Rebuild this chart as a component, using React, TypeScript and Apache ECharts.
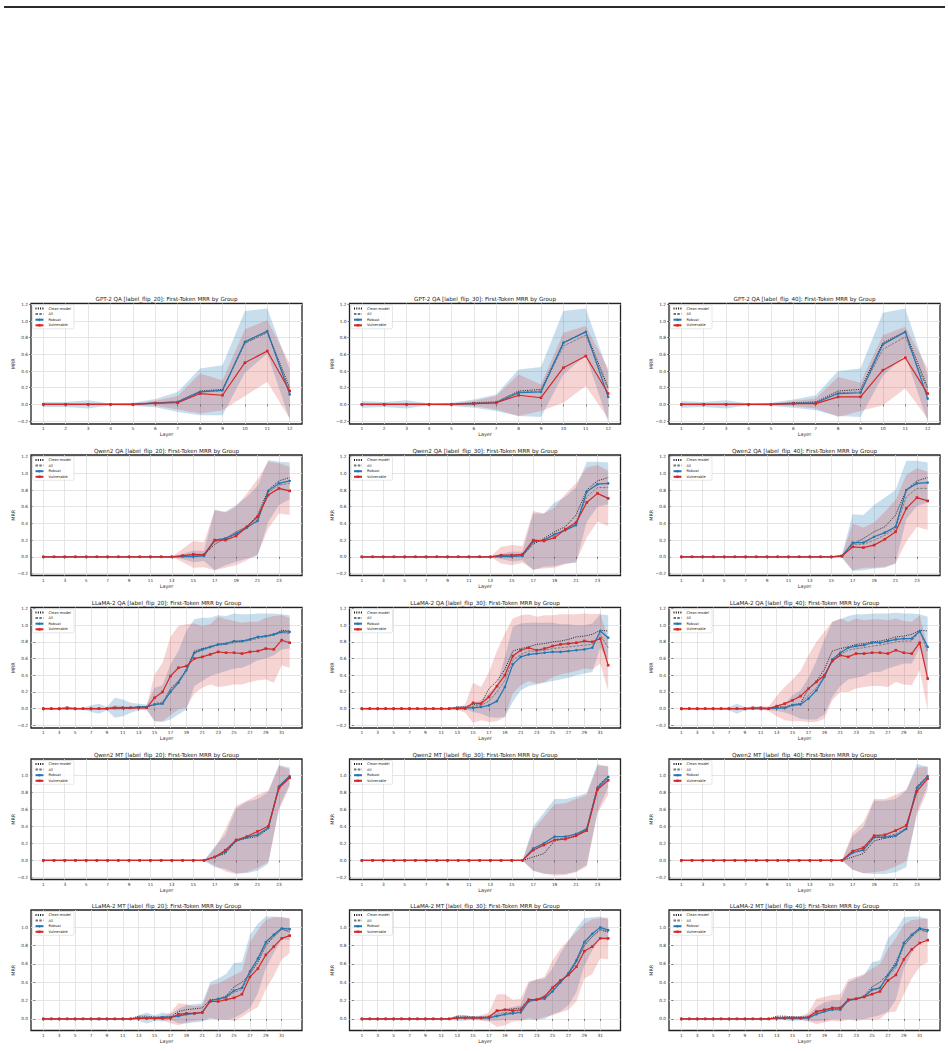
import React, { useEffect, useRef } from "react";
import * as echarts from "echarts";

// ---- layer indices and ticks ----
const LAYERS_12 = [1, 2, 3, 4, 5, 6, 7, 8, 9, 10, 11, 12];
const LAYERS_24 = [1, 2, 3, 4, 5, 6, 7, 8, 9, 10, 11, 12, 13, 14, 15, 16, 17, 18, 19, 20, 21, 22, 23, 24];
const LAYERS_32 = [1, 2, 3, 4, 5, 6, 7, 8, 9, 10, 11, 12, 13, 14, 15, 16, 17, 18, 19, 20, 21, 22, 23, 24, 25, 26, 27, 28, 29, 30, 31, 32];
const X_TICKS_12 = [1, 2, 3, 4, 5, 6, 7, 8, 9, 10, 11, 12];
const X_TICKS_24 = [1, 3, 5, 7, 9, 11, 13, 15, 17, 19, 21, 23];
const X_TICKS_32 = [1, 3, 5, 7, 9, 11, 13, 15, 17, 19, 21, 23, 25, 27, 29, 31];
const Y_TICKS_QA = [-0.2, 0, 0.2, 0.4, 0.6, 0.8, 1.0, 1.2];
const Y_TICKS_QWEN_MT = [-0.2, 0, 0.2, 0.4, 0.6, 0.8, 1.0];
const Y_TICKS_LLAMA_MT = [0, 0.2, 0.4, 0.6, 0.8, 1.0];

const LEGEND_NAMES = ["Clean model", "All", "Robust", "Vulnerable"];

// ---- clean-model reference curves (one per model / task) ----
const GPT2_QA_CLEAN = [0, 0, 0, 0, 0, 0.02, 0.03, 0.16, 0.18, 0.74, 0.87, 0.2];
const QWEN_QA_CLEAN = [0, 0, 0, 0, 0, 0, 0, 0, 0, 0, 0, 0, 0, 0, 0, 0.02, 0.15, 0.22, 0.3, 0.36, 0.5, 0.8, 0.91, 0.95];
const LLAMA_QA_CLEAN = [0, 0, 0, 0, 0, 0, 0, 0, 0, 0, 0, 0, 0.02, 0.02, 0.05, 0.06, 0.24, 0.33, 0.47, 0.69, 0.72, 0.74, 0.77, 0.78, 0.8, 0.81, 0.83, 0.86, 0.87, 0.89, 0.94, 0.93];
const QWEN_MT_CLEAN = [0, 0, 0, 0, 0, 0, 0, 0, 0, 0, 0, 0, 0, 0, 0, 0, 0.04, 0.08, 0.23, 0.26, 0.28, 0.37, 0.87, 0.99];
const LLAMA_MT_CLEAN = [0, 0, 0, 0, 0, 0, 0, 0, 0, 0, 0, 0, 0.03, 0.03, 0.02, 0.02, 0.02, 0.08, 0.1, 0.11, 0.12, 0.21, 0.21, 0.25, 0.35, 0.4, 0.49, 0.62, 0.8, 0.9, 0.98, 0.95];

// ---- GPT-2 QA ----
const GPT2_QA_20_ALL = [0, 0, 0, 0, 0, 0.015, 0.03, 0.15, 0.16, 0.73, 0.86, 0.17];
const GPT2_QA_20_ROBUST = [0, 0, 0, 0, 0, 0.015, 0.03, 0.15, 0.17, 0.75, 0.88, 0.12];
const GPT2_QA_20_VULN = [0, 0, 0, 0, 0, 0.015, 0.02, 0.13, 0.11, 0.5, 0.64, 0.16];
const GPT2_QA_20_ROBUST_SD = [0.03, 0.03, 0.05, 0.01, 0.02, 0.05, 0.12, 0.28, 0.3, 0.37, 0.27, 0.3];
const GPT2_QA_20_VULN_SD = [0.01, 0.01, 0.01, 0.01, 0.01, 0.03, 0.08, 0.24, 0.18, 0.4, 0.37, 0.33];

const GPT2_QA_30_ALL = [0, 0, 0, 0, 0, 0.01, 0.02, 0.15, 0.16, 0.7, 0.83, 0.18];
const GPT2_QA_30_ROBUST = [0, 0, 0, 0, 0, 0.01, 0.02, 0.14, 0.15, 0.74, 0.87, 0.09];
const GPT2_QA_30_VULN = [0, 0, 0, 0, 0, 0.01, 0.02, 0.11, 0.08, 0.44, 0.58, 0.13];
const GPT2_QA_30_ROBUST_SD = [0.04, 0.03, 0.05, 0.01, 0.02, 0.05, 0.1, 0.28, 0.3, 0.38, 0.28, 0.3];
const GPT2_QA_30_VULN_SD = [0.01, 0.01, 0.01, 0.01, 0.01, 0.03, 0.08, 0.25, 0.16, 0.42, 0.36, 0.3];

const GPT2_QA_40_ALL = [0, 0, 0, 0, 0, 0.01, 0.02, 0.14, 0.15, 0.66, 0.81, 0.17];
const GPT2_QA_40_ROBUST = [0, 0, 0, 0, 0, 0.01, 0.02, 0.13, 0.14, 0.72, 0.87, 0.07];
const GPT2_QA_40_VULN = [0, 0, 0, 0, 0, 0.01, 0.01, 0.09, 0.09, 0.41, 0.56, 0.13];
const GPT2_QA_40_ROBUST_SD = [0.04, 0.03, 0.05, 0.01, 0.02, 0.05, 0.09, 0.27, 0.29, 0.38, 0.28, 0.28];
const GPT2_QA_40_VULN_SD = [0.01, 0.01, 0.01, 0.01, 0.01, 0.03, 0.06, 0.24, 0.17, 0.42, 0.37, 0.3];

// ---- Qwen2 QA ----
const QWEN_QA_20_ALL = [0, 0, 0, 0, 0, 0, 0, 0, 0, 0, 0, 0, 0, 0.005, 0.01, 0.02, 0.18, 0.21, 0.27, 0.34, 0.45, 0.77, 0.86, 0.88];
const QWEN_QA_20_ROBUST = [0, 0, 0, 0, 0, 0, 0, 0, 0, 0, 0, 0, 0, 0.005, 0.005, 0.01, 0.2, 0.22, 0.28, 0.35, 0.43, 0.79, 0.88, 0.91];
const QWEN_QA_20_VULN = [0, 0, 0, 0, 0, 0, 0, 0, 0, 0, 0, 0, 0, 0.015, 0.03, 0.025, 0.2, 0.2, 0.25, 0.36, 0.48, 0.74, 0.82, 0.79];
const QWEN_QA_20_ROBUST_SD = [0, 0, 0, 0, 0, 0, 0, 0, 0, 0, 0, 0, 0, 0.03, 0.07, 0.06, 0.36, 0.32, 0.34, 0.37, 0.42, 0.37, 0.26, 0.22];
const QWEN_QA_20_VULN_SD = [0, 0, 0, 0, 0, 0, 0, 0, 0, 0, 0, 0, 0, 0.08, 0.16, 0.15, 0.36, 0.33, 0.35, 0.4, 0.45, 0.4, 0.3, 0.29];

const QWEN_QA_30_ALL = [0, 0, 0, 0, 0, 0, 0, 0, 0, 0, 0, 0, 0, 0.01, 0.01, 0.02, 0.18, 0.2, 0.26, 0.32, 0.4, 0.72, 0.83, 0.83];
const QWEN_QA_30_ROBUST = [0, 0, 0, 0, 0, 0, 0, 0, 0, 0, 0, 0, 0, 0.005, 0.005, 0.01, 0.18, 0.2, 0.27, 0.32, 0.38, 0.78, 0.87, 0.88];
const QWEN_QA_30_VULN = [0, 0, 0, 0, 0, 0, 0, 0, 0, 0, 0, 0, 0, 0.02, 0.02, 0.03, 0.2, 0.19, 0.23, 0.33, 0.41, 0.65, 0.76, 0.7];
const QWEN_QA_30_ROBUST_SD = [0, 0, 0, 0, 0, 0, 0, 0, 0, 0, 0, 0, 0, 0.03, 0.06, 0.05, 0.34, 0.32, 0.38, 0.4, 0.45, 0.36, 0.27, 0.25];
const QWEN_QA_30_VULN_SD = [0, 0, 0, 0, 0, 0, 0, 0, 0, 0, 0, 0, 0, 0.1, 0.12, 0.1, 0.35, 0.33, 0.36, 0.42, 0.47, 0.42, 0.34, 0.33];

const QWEN_QA_40_ALL = [0, 0, 0, 0, 0, 0, 0, 0, 0, 0, 0, 0, 0, 0, 0, 0.01, 0.15, 0.15, 0.2, 0.26, 0.34, 0.72, 0.82, 0.82];
const QWEN_QA_40_ROBUST = [0, 0, 0, 0, 0, 0, 0, 0, 0, 0, 0, 0, 0, 0, 0, 0.005, 0.17, 0.17, 0.24, 0.29, 0.36, 0.8, 0.88, 0.89];
const QWEN_QA_40_VULN = [0, 0, 0, 0, 0, 0, 0, 0, 0, 0, 0, 0, 0, 0, 0, 0.01, 0.12, 0.11, 0.14, 0.21, 0.3, 0.58, 0.71, 0.67];
const QWEN_QA_40_ROBUST_SD = [0, 0, 0, 0, 0, 0, 0, 0, 0, 0, 0, 0, 0, 0, 0, 0.02, 0.34, 0.33, 0.38, 0.42, 0.44, 0.35, 0.27, 0.24];
const QWEN_QA_40_VULN_SD = [0, 0, 0, 0, 0, 0, 0, 0, 0, 0, 0, 0, 0, 0, 0, 0.01, 0.28, 0.24, 0.27, 0.33, 0.38, 0.4, 0.35, 0.35];

// ---- LLaMA-2 QA ----
const LLAMA_QA_20_ALL = [0, 0, 0, 0, 0, 0, 0, 0, 0, 0.01, 0.01, 0.01, 0.02, 0.02, 0.06, 0.08, 0.22, 0.33, 0.46, 0.66, 0.7, 0.73, 0.76, 0.77, 0.79, 0.8, 0.82, 0.84, 0.86, 0.88, 0.91, 0.9];
const LLAMA_QA_20_ROBUST = [0, 0, 0, 0, 0, 0, 0, 0, 0, 0.01, 0.01, 0.01, 0.02, 0.02, 0.05, 0.06, 0.2, 0.31, 0.46, 0.67, 0.71, 0.74, 0.77, 0.78, 0.81, 0.81, 0.83, 0.86, 0.87, 0.89, 0.92, 0.92];
const LLAMA_QA_20_VULN = [0, 0, 0, 0.01, 0, 0, 0, 0, 0, 0.01, 0.01, 0.01, 0.01, 0.01, 0.13, 0.2, 0.39, 0.49, 0.51, 0.6, 0.62, 0.65, 0.68, 0.67, 0.67, 0.66, 0.68, 0.69, 0.72, 0.71, 0.82, 0.79];
const LLAMA_QA_20_ROBUST_SD = [0.01, 0.01, 0.01, 0.01, 0.01, 0.01, 0.04, 0.06, 0.02, 0.12, 0.1, 0.06, 0.04, 0.03, 0.2, 0.22, 0.33, 0.38, 0.47, 0.4, 0.38, 0.35, 0.35, 0.33, 0.33, 0.32, 0.3, 0.28, 0.27, 0.25, 0.21, 0.2];
const LLAMA_QA_20_VULN_SD = [0.01, 0.01, 0.01, 0.02, 0.01, 0.01, 0.01, 0.01, 0.01, 0.03, 0.02, 0.02, 0.02, 0.02, 0.28, 0.35, 0.47, 0.5, 0.5, 0.42, 0.37, 0.36, 0.42, 0.4, 0.38, 0.37, 0.36, 0.35, 0.37, 0.4, 0.3, 0.3];

const LLAMA_QA_30_ALL = [0, 0, 0, 0, 0, 0, 0, 0, 0, 0, 0, 0, 0.01, 0.01, 0.03, 0.04, 0.09, 0.2, 0.34, 0.58, 0.65, 0.69, 0.69, 0.7, 0.72, 0.73, 0.74, 0.75, 0.76, 0.77, 0.89, 0.73];
const LLAMA_QA_30_ROBUST = [0, 0, 0, 0, 0, 0, 0, 0, 0, 0, 0, 0, 0.01, 0.01, 0.01, 0.02, 0.04, 0.09, 0.26, 0.53, 0.62, 0.65, 0.66, 0.67, 0.68, 0.68, 0.69, 0.7, 0.71, 0.73, 0.93, 0.85];
const LLAMA_QA_30_VULN = [0, 0, 0, 0, 0, 0, 0, 0, 0, 0, 0, 0, 0, 0, 0.07, 0.06, 0.14, 0.27, 0.4, 0.63, 0.7, 0.73, 0.7, 0.72, 0.75, 0.77, 0.78, 0.79, 0.81, 0.8, 0.84, 0.52];
const LLAMA_QA_30_ROBUST_SD = [0.01, 0.01, 0.01, 0.01, 0.01, 0.01, 0.01, 0.01, 0.01, 0.01, 0.01, 0.01, 0.02, 0.02, 0.05, 0.08, 0.14, 0.2, 0.36, 0.45, 0.4, 0.38, 0.37, 0.36, 0.35, 0.33, 0.32, 0.3, 0.29, 0.29, 0.2, 0.27];
const LLAMA_QA_30_VULN_SD = [0.01, 0.01, 0.01, 0.01, 0.01, 0.01, 0.01, 0.01, 0.01, 0.01, 0.01, 0.01, 0.01, 0.05, 0.24, 0.2, 0.3, 0.42, 0.5, 0.45, 0.42, 0.4, 0.4, 0.4, 0.37, 0.36, 0.35, 0.34, 0.33, 0.33, 0.3, 0.31];

const LLAMA_QA_40_ALL = [0, 0, 0, 0, 0, 0, 0, 0, 0, 0, 0, 0, 0.01, 0.02, 0.04, 0.06, 0.16, 0.25, 0.39, 0.58, 0.65, 0.7, 0.72, 0.73, 0.75, 0.76, 0.78, 0.8, 0.81, 0.81, 0.93, 0.68];
const LLAMA_QA_40_ROBUST = [0, 0, 0, 0, 0, 0, 0, 0, 0, 0, 0, 0, 0.005, 0.005, 0.04, 0.05, 0.12, 0.22, 0.38, 0.59, 0.67, 0.73, 0.75, 0.76, 0.79, 0.79, 0.81, 0.83, 0.84, 0.84, 0.93, 0.74];
const LLAMA_QA_40_VULN = [0, 0, 0, 0, 0, 0, 0, 0, 0, 0.01, 0.01, 0, 0.03, 0.06, 0.1, 0.15, 0.24, 0.32, 0.4, 0.57, 0.64, 0.62, 0.66, 0.66, 0.67, 0.67, 0.66, 0.7, 0.67, 0.66, 0.79, 0.36];
const LLAMA_QA_40_ROBUST_SD = [0.01, 0.01, 0.01, 0.01, 0.01, 0.01, 0.02, 0.06, 0.02, 0.01, 0.01, 0.02, 0.03, 0.05, 0.12, 0.17, 0.25, 0.35, 0.45, 0.45, 0.4, 0.38, 0.38, 0.37, 0.35, 0.35, 0.33, 0.32, 0.3, 0.3, 0.2, 0.36];
const LLAMA_QA_40_VULN_SD = [0.01, 0.01, 0.01, 0.01, 0.01, 0.01, 0.01, 0.01, 0.01, 0.02, 0.02, 0.03, 0.12, 0.2, 0.25, 0.3, 0.4, 0.48, 0.52, 0.47, 0.44, 0.42, 0.42, 0.4, 0.4, 0.4, 0.4, 0.38, 0.38, 0.38, 0.33, 0.38];

// ---- Qwen2 MT ----
const QWEN_MT_20_ALL = [0, 0, 0, 0, 0, 0, 0, 0, 0, 0, 0, 0, 0, 0, 0, 0, 0.04, 0.1, 0.23, 0.27, 0.31, 0.38, 0.86, 0.98];
const QWEN_MT_20_ROBUST = [0, 0, 0, 0, 0, 0, 0, 0, 0, 0, 0, 0, 0, 0, 0, 0, 0.04, 0.1, 0.23, 0.27, 0.3, 0.38, 0.87, 0.99];
const QWEN_MT_20_VULN = [0, 0, 0, 0, 0, 0, 0, 0, 0, 0, 0, 0, 0, 0, 0, 0, 0.04, 0.12, 0.24, 0.28, 0.34, 0.4, 0.85, 0.97];
const QWEN_MT_20_ROBUST_SD = [0, 0, 0, 0, 0, 0, 0, 0, 0, 0, 0, 0, 0, 0, 0, 0, 0.12, 0.2, 0.38, 0.42, 0.42, 0.42, 0.25, 0.1];
const QWEN_MT_20_VULN_SD = [0, 0, 0, 0, 0, 0, 0, 0, 0, 0, 0, 0, 0, 0, 0, 0, 0.1, 0.25, 0.4, 0.42, 0.43, 0.42, 0.26, 0.1];

const QWEN_MT_30_ALL = [0, 0, 0, 0, 0, 0, 0, 0, 0, 0, 0, 0, 0, 0, 0, 0, 0.12, 0.18, 0.25, 0.26, 0.3, 0.36, 0.84, 0.96];
const QWEN_MT_30_ROBUST = [0, 0, 0, 0, 0, 0, 0, 0, 0, 0, 0, 0, 0, 0, 0, 0, 0.14, 0.2, 0.28, 0.28, 0.31, 0.37, 0.85, 0.98];
const QWEN_MT_30_VULN = [0, 0, 0, 0, 0, 0, 0, 0, 0, 0, 0, 0, 0, 0, 0, 0, 0.12, 0.18, 0.24, 0.25, 0.29, 0.35, 0.83, 0.94];
const QWEN_MT_30_ROBUST_SD = [0, 0, 0, 0, 0, 0, 0, 0, 0, 0, 0, 0, 0, 0, 0, 0, 0.26, 0.36, 0.44, 0.44, 0.44, 0.42, 0.28, 0.12];
const QWEN_MT_30_VULN_SD = [0, 0, 0, 0, 0, 0, 0, 0, 0, 0, 0, 0, 0, 0, 0, 0, 0.24, 0.33, 0.42, 0.42, 0.43, 0.42, 0.28, 0.17];

const QWEN_MT_40_ALL = [0, 0, 0, 0, 0, 0, 0, 0, 0, 0, 0, 0, 0, 0, 0, 0, 0.1, 0.13, 0.28, 0.28, 0.31, 0.38, 0.83, 0.97];
const QWEN_MT_40_ROBUST = [0, 0, 0, 0, 0, 0, 0, 0, 0, 0, 0, 0, 0, 0, 0, 0, 0.09, 0.12, 0.27, 0.27, 0.29, 0.37, 0.85, 0.99];
const QWEN_MT_40_VULN = [0, 0, 0, 0, 0, 0, 0, 0, 0, 0, 0, 0, 0, 0, 0, 0, 0.11, 0.15, 0.29, 0.3, 0.35, 0.41, 0.81, 0.96];
const QWEN_MT_40_ROBUST_SD = [0, 0, 0, 0, 0, 0, 0, 0, 0, 0, 0, 0, 0, 0, 0, 0, 0.2, 0.27, 0.43, 0.43, 0.43, 0.45, 0.28, 0.11];
const QWEN_MT_40_VULN_SD = [0, 0, 0, 0, 0, 0, 0, 0, 0, 0, 0, 0, 0, 0, 0, 0, 0.22, 0.3, 0.43, 0.42, 0.42, 0.42, 0.28, 0.14];

// ---- LLaMA-2 MT ----
const LLAMA_MT_20_ALL = [0, 0, 0, 0, 0, 0, 0, 0, 0, 0, 0, 0, 0.02, 0.02, 0.015, 0.02, 0.02, 0.04, 0.05, 0.06, 0.07, 0.2, 0.21, 0.23, 0.29, 0.32, 0.5, 0.63, 0.82, 0.9, 0.98, 0.96];
const LLAMA_MT_20_ROBUST = [0, 0, 0, 0, 0, 0, 0, 0, 0, 0, 0, 0, 0.01, 0.01, 0.01, 0.02, 0.02, 0.03, 0.05, 0.06, 0.07, 0.2, 0.22, 0.24, 0.31, 0.34, 0.52, 0.66, 0.84, 0.92, 0.99, 0.98];
const LLAMA_MT_20_VULN = [0, 0, 0, 0, 0, 0, 0, 0, 0, 0, 0, 0, 0.005, 0.005, 0.005, 0.005, 0.01, 0.05, 0.06, 0.06, 0.07, 0.19, 0.19, 0.21, 0.23, 0.27, 0.46, 0.55, 0.7, 0.79, 0.88, 0.91];
const LLAMA_MT_20_ROBUST_SD = [0.005, 0.005, 0.005, 0.005, 0.005, 0.005, 0.005, 0.02, 0.005, 0.005, 0.005, 0.005, 0.03, 0.06, 0.03, 0.05, 0.03, 0.08, 0.1, 0.1, 0.1, 0.2, 0.22, 0.25, 0.3, 0.28, 0.4, 0.38, 0.28, 0.2, 0.12, 0.12];
const LLAMA_MT_20_VULN_SD = [0.005, 0.005, 0.005, 0.005, 0.005, 0.005, 0.005, 0.005, 0.005, 0.005, 0.005, 0.005, 0.01, 0.01, 0.01, 0.02, 0.06, 0.12, 0.1, 0.08, 0.08, 0.18, 0.2, 0.22, 0.25, 0.25, 0.38, 0.42, 0.38, 0.32, 0.23, 0.19];

const LLAMA_MT_30_ALL = [0, 0, 0, 0, 0, 0, 0, 0, 0, 0, 0, 0, 0.02, 0.02, 0.01, 0.01, 0.01, 0.05, 0.07, 0.07, 0.08, 0.2, 0.21, 0.23, 0.31, 0.41, 0.49, 0.62, 0.81, 0.9, 0.97, 0.95];
const LLAMA_MT_30_ROBUST = [0, 0, 0, 0, 0, 0, 0, 0, 0, 0, 0, 0, 0.01, 0.01, 0.01, 0.01, 0.01, 0.03, 0.05, 0.06, 0.07, 0.19, 0.21, 0.22, 0.3, 0.4, 0.5, 0.64, 0.84, 0.93, 1.0, 0.97];
const LLAMA_MT_30_VULN = [0, 0, 0, 0, 0, 0, 0, 0, 0, 0, 0, 0, 0.01, 0.01, 0.01, 0.01, 0.02, 0.09, 0.1, 0.09, 0.1, 0.21, 0.21, 0.24, 0.34, 0.42, 0.48, 0.57, 0.74, 0.79, 0.88, 0.88];
const LLAMA_MT_30_ROBUST_SD = [0.005, 0.005, 0.005, 0.005, 0.005, 0.005, 0.005, 0.005, 0.005, 0.005, 0.005, 0.005, 0.03, 0.03, 0.02, 0.02, 0.03, 0.05, 0.06, 0.07, 0.08, 0.2, 0.22, 0.22, 0.25, 0.32, 0.35, 0.35, 0.26, 0.18, 0.12, 0.12];
const LLAMA_MT_30_VULN_SD = [0.005, 0.005, 0.005, 0.005, 0.005, 0.005, 0.005, 0.005, 0.005, 0.005, 0.005, 0.005, 0.01, 0.01, 0.02, 0.03, 0.05, 0.18, 0.17, 0.12, 0.12, 0.2, 0.22, 0.22, 0.3, 0.35, 0.38, 0.38, 0.3, 0.3, 0.22, 0.23];

const LLAMA_MT_40_ALL = [0, 0, 0, 0, 0, 0, 0, 0, 0, 0, 0, 0, 0.01, 0.01, 0.01, 0.01, 0.01, 0.06, 0.09, 0.11, 0.11, 0.2, 0.22, 0.24, 0.31, 0.33, 0.46, 0.56, 0.8, 0.9, 0.97, 0.95];
const LLAMA_MT_40_ROBUST = [0, 0, 0, 0, 0, 0, 0, 0, 0, 0, 0, 0, 0.005, 0.005, 0.005, 0.005, 0.01, 0.05, 0.08, 0.1, 0.1, 0.2, 0.22, 0.24, 0.32, 0.34, 0.48, 0.59, 0.83, 0.92, 0.99, 0.97];
const LLAMA_MT_40_VULN = [0, 0, 0, 0, 0, 0, 0, 0, 0, 0, 0, 0, 0.01, 0.01, 0.01, 0.01, 0.02, 0.08, 0.1, 0.12, 0.12, 0.21, 0.22, 0.24, 0.27, 0.3, 0.42, 0.48, 0.65, 0.76, 0.83, 0.86];
const LLAMA_MT_40_ROBUST_SD = [0.005, 0.005, 0.005, 0.005, 0.005, 0.005, 0.005, 0.005, 0.005, 0.005, 0.005, 0.005, 0.02, 0.02, 0.03, 0.02, 0.03, 0.08, 0.1, 0.1, 0.1, 0.2, 0.22, 0.24, 0.3, 0.3, 0.4, 0.38, 0.28, 0.2, 0.13, 0.12];
const LLAMA_MT_40_VULN_SD = [0.005, 0.005, 0.005, 0.005, 0.005, 0.005, 0.005, 0.005, 0.005, 0.005, 0.005, 0.005, 0.01, 0.01, 0.02, 0.02, 0.05, 0.14, 0.14, 0.14, 0.15, 0.22, 0.24, 0.25, 0.28, 0.3, 0.35, 0.4, 0.38, 0.32, 0.26, 0.24];

type Panel = {
  title: string;
  layers: number[];
  xTicks: number[];
  yTicks: number[];
  yMin: number;
  yMax: number;
  clean: number[];
  all: number[];
  robust: number[];
  vuln: number[];
  robustSd: number[];
  vulnSd: number[];
};

const PANELS: Panel[] = [
  { title: "GPT-2 QA [label_flip_20]: First-Token MRR by Group", layers: LAYERS_12, xTicks: X_TICKS_12, yTicks: Y_TICKS_QA, yMin: -0.235, yMax: 1.21, clean: GPT2_QA_CLEAN, all: GPT2_QA_20_ALL, robust: GPT2_QA_20_ROBUST, vuln: GPT2_QA_20_VULN, robustSd: GPT2_QA_20_ROBUST_SD, vulnSd: GPT2_QA_20_VULN_SD },
  { title: "GPT-2 QA [label_flip_30]: First-Token MRR by Group", layers: LAYERS_12, xTicks: X_TICKS_12, yTicks: Y_TICKS_QA, yMin: -0.235, yMax: 1.21, clean: GPT2_QA_CLEAN, all: GPT2_QA_30_ALL, robust: GPT2_QA_30_ROBUST, vuln: GPT2_QA_30_VULN, robustSd: GPT2_QA_30_ROBUST_SD, vulnSd: GPT2_QA_30_VULN_SD },
  { title: "GPT-2 QA [label_flip_40]: First-Token MRR by Group", layers: LAYERS_12, xTicks: X_TICKS_12, yTicks: Y_TICKS_QA, yMin: -0.235, yMax: 1.21, clean: GPT2_QA_CLEAN, all: GPT2_QA_40_ALL, robust: GPT2_QA_40_ROBUST, vuln: GPT2_QA_40_VULN, robustSd: GPT2_QA_40_ROBUST_SD, vulnSd: GPT2_QA_40_VULN_SD },
  { title: "Qwen2 QA [label_flip_20]: First-Token MRR by Group", layers: LAYERS_24, xTicks: X_TICKS_24, yTicks: Y_TICKS_QA, yMin: -0.224, yMax: 1.22, clean: QWEN_QA_CLEAN, all: QWEN_QA_20_ALL, robust: QWEN_QA_20_ROBUST, vuln: QWEN_QA_20_VULN, robustSd: QWEN_QA_20_ROBUST_SD, vulnSd: QWEN_QA_20_VULN_SD },
  { title: "Qwen2 QA [label_flip_30]: First-Token MRR by Group", layers: LAYERS_24, xTicks: X_TICKS_24, yTicks: Y_TICKS_QA, yMin: -0.224, yMax: 1.22, clean: QWEN_QA_CLEAN, all: QWEN_QA_30_ALL, robust: QWEN_QA_30_ROBUST, vuln: QWEN_QA_30_VULN, robustSd: QWEN_QA_30_ROBUST_SD, vulnSd: QWEN_QA_30_VULN_SD },
  { title: "Qwen2 QA [label_flip_40]: First-Token MRR by Group", layers: LAYERS_24, xTicks: X_TICKS_24, yTicks: Y_TICKS_QA, yMin: -0.224, yMax: 1.22, clean: QWEN_QA_CLEAN, all: QWEN_QA_40_ALL, robust: QWEN_QA_40_ROBUST, vuln: QWEN_QA_40_VULN, robustSd: QWEN_QA_40_ROBUST_SD, vulnSd: QWEN_QA_40_VULN_SD },
  { title: "LLaMA-2 QA [label_flip_20]: First-Token MRR by Group", layers: LAYERS_32, xTicks: X_TICKS_32, yTicks: Y_TICKS_QA, yMin: -0.232, yMax: 1.212, clean: LLAMA_QA_CLEAN, all: LLAMA_QA_20_ALL, robust: LLAMA_QA_20_ROBUST, vuln: LLAMA_QA_20_VULN, robustSd: LLAMA_QA_20_ROBUST_SD, vulnSd: LLAMA_QA_20_VULN_SD },
  { title: "LLaMA-2 QA [label_flip_30]: First-Token MRR by Group", layers: LAYERS_32, xTicks: X_TICKS_32, yTicks: Y_TICKS_QA, yMin: -0.232, yMax: 1.212, clean: LLAMA_QA_CLEAN, all: LLAMA_QA_30_ALL, robust: LLAMA_QA_30_ROBUST, vuln: LLAMA_QA_30_VULN, robustSd: LLAMA_QA_30_ROBUST_SD, vulnSd: LLAMA_QA_30_VULN_SD },
  { title: "LLaMA-2 QA [label_flip_40]: First-Token MRR by Group", layers: LAYERS_32, xTicks: X_TICKS_32, yTicks: Y_TICKS_QA, yMin: -0.232, yMax: 1.212, clean: LLAMA_QA_CLEAN, all: LLAMA_QA_40_ALL, robust: LLAMA_QA_40_ROBUST, vuln: LLAMA_QA_40_VULN, robustSd: LLAMA_QA_40_ROBUST_SD, vulnSd: LLAMA_QA_40_VULN_SD },
  { title: "Qwen2 MT [label_flip_20]: First-Token MRR by Group", layers: LAYERS_24, xTicks: X_TICKS_24, yTicks: Y_TICKS_QWEN_MT, yMin: -0.224, yMax: 1.19, clean: QWEN_MT_CLEAN, all: QWEN_MT_20_ALL, robust: QWEN_MT_20_ROBUST, vuln: QWEN_MT_20_VULN, robustSd: QWEN_MT_20_ROBUST_SD, vulnSd: QWEN_MT_20_VULN_SD },
  { title: "Qwen2 MT [label_flip_30]: First-Token MRR by Group", layers: LAYERS_24, xTicks: X_TICKS_24, yTicks: Y_TICKS_QWEN_MT, yMin: -0.224, yMax: 1.19, clean: QWEN_MT_CLEAN, all: QWEN_MT_30_ALL, robust: QWEN_MT_30_ROBUST, vuln: QWEN_MT_30_VULN, robustSd: QWEN_MT_30_ROBUST_SD, vulnSd: QWEN_MT_30_VULN_SD },
  { title: "Qwen2 MT [label_flip_40]: First-Token MRR by Group", layers: LAYERS_24, xTicks: X_TICKS_24, yTicks: Y_TICKS_QWEN_MT, yMin: -0.224, yMax: 1.19, clean: QWEN_MT_CLEAN, all: QWEN_MT_40_ALL, robust: QWEN_MT_40_ROBUST, vuln: QWEN_MT_40_VULN, robustSd: QWEN_MT_40_ROBUST_SD, vulnSd: QWEN_MT_40_VULN_SD },
  { title: "LLaMA-2 MT [label_flip_20]: First-Token MRR by Group", layers: LAYERS_32, xTicks: X_TICKS_32, yTicks: Y_TICKS_LLAMA_MT, yMin: -0.127, yMax: 1.19, clean: LLAMA_MT_CLEAN, all: LLAMA_MT_20_ALL, robust: LLAMA_MT_20_ROBUST, vuln: LLAMA_MT_20_VULN, robustSd: LLAMA_MT_20_ROBUST_SD, vulnSd: LLAMA_MT_20_VULN_SD },
  { title: "LLaMA-2 MT [label_flip_30]: First-Token MRR by Group", layers: LAYERS_32, xTicks: X_TICKS_32, yTicks: Y_TICKS_LLAMA_MT, yMin: -0.127, yMax: 1.19, clean: LLAMA_MT_CLEAN, all: LLAMA_MT_30_ALL, robust: LLAMA_MT_30_ROBUST, vuln: LLAMA_MT_30_VULN, robustSd: LLAMA_MT_30_ROBUST_SD, vulnSd: LLAMA_MT_30_VULN_SD },
  { title: "LLaMA-2 MT [label_flip_40]: First-Token MRR by Group", layers: LAYERS_32, xTicks: X_TICKS_32, yTicks: Y_TICKS_LLAMA_MT, yMin: -0.127, yMax: 1.19, clean: LLAMA_MT_CLEAN, all: LLAMA_MT_40_ALL, robust: LLAMA_MT_40_ROBUST, vuln: LLAMA_MT_40_VULN, robustSd: LLAMA_MT_40_ROBUST_SD, vulnSd: LLAMA_MT_40_VULN_SD },
];

// ---- layout ----
const FONT = "DejaVu Sans";
const COL_LEFT = [31, 349.5, 669];
const ROW_TOP = [303.5, 455, 607.5, 759, 910];
const GRID_W = 271;
const GRID_H = 120.5;

const BLUE = "#1f77b4";
const RED = "#d62728";
const BLUE_BAND = "rgba(31,119,180,0.24)";
const RED_BAND = "rgba(214,39,40,0.2)";
// zero-area marker so the dashed reference lines show as a bare line in the legend
const NO_MARK = "path://M0,0L10,10";

function fmtY(v: number): string {
  const s = Math.abs(v).toFixed(1);
  return v < -1e-9 ? "\u2212" + s : s;
}

// Mean ± sd band drawn as one polygon through the axis scales.
function bandSeries(layers: number[], mean: number[], sd: number[], color: string, axisIndex: number) {
  const data = layers.map((x, k) => [x, mean[k] - sd[k], mean[k] + sd[k]]);
  return {
    type: "custom",
    xAxisIndex: axisIndex,
    yAxisIndex: axisIndex,
    silent: true,
    z: 1,
    encode: { x: 0, y: [1, 2] },
    data,
    renderItem: (params: any, api: any) => {
      if (params.dataIndex !== 0) return null;
      const upper = data.map((d) => api.coord([d[0], d[2]]));
      const lower = data.map((d) => api.coord([d[0], d[1]])).reverse();
      return {
        type: "polygon",
        shape: { points: upper.concat(lower) },
        style: { fill: color, stroke: "none" },
      };
    },
  };
}

function buildOption() {
  const grid: any[] = [];
  const xAxis: any[] = [];
  const yAxis: any[] = [];
  const series: any[] = [];
  const legend: any[] = [];
  const graphic: any[] = [
    { type: "line", shape: { x1: 4, y1: 7, x2: 945, y2: 7 }, style: { stroke: "#2b2b2b", lineWidth: 2 } },
  ];

  PANELS.forEach((p, i) => {
    const r = Math.floor(i / 3);
    const c = i % 3;
    const left = COL_LEFT[c];
    const top = ROW_TOP[r];
    const n = p.layers.length;
    const pad = 0.05 * (n - 1);

    grid.push({
      left, top, width: GRID_W, height: GRID_H,
      show: true, borderColor: "#222", borderWidth: 1.3, backgroundColor: "#fff",
      containLabel: false, outerBoundsMode: "none",
    });

    xAxis.push({
      type: "value", gridIndex: i, min: 1 - pad, max: n + pad,
      axisLine: { show: false },
      axisTick: { show: true, customValues: p.xTicks, length: 2, lineStyle: { color: "#333", width: 0.6 } },
      axisLabel: { customValues: p.xTicks, fontSize: 4.3, color: "#333", margin: 2.5, fontFamily: FONT, formatter: (v: number) => String(Math.round(v)) },
      splitLine: { show: true, lineStyle: { color: "#dedede", width: 0.8 } },
      name: "Layer", nameLocation: "middle", nameGap: 7.5, nameMoveOverlap: false,
      nameTextStyle: { fontSize: 4.9, color: "#333", fontFamily: FONT },
    });

    yAxis.push({
      type: "value", gridIndex: i, min: p.yMin, max: p.yMax,
      axisLine: { show: false },
      axisTick: { show: true, customValues: p.yTicks, length: 2, lineStyle: { color: "#333", width: 0.6 } },
      axisLabel: { customValues: p.yTicks, fontSize: 4.3, color: "#333", margin: 3, fontFamily: FONT, formatter: (v: number) => fmtY(v) },
      splitLine: { show: true, lineStyle: { color: "#dedede", width: 0.8 } },
      name: "MRR", nameLocation: "middle", nameGap: 15.5, nameRotate: 90, nameMoveOverlap: false,
      nameTextStyle: { fontSize: 4.9, color: "#333", fontFamily: FONT },
    });

    const pair = (ys: number[]) => p.layers.map((x, k) => [x, ys[k]]);

    series.push(bandSeries(p.layers, p.robust, p.robustSd, BLUE_BAND, i));
    series.push(bandSeries(p.layers, p.vuln, p.vulnSd, RED_BAND, i));

    series.push({
      type: "line", name: "Clean model", xAxisIndex: i, yAxisIndex: i, data: pair(p.clean),
      symbol: NO_MARK, showSymbol: false, lineStyle: { color: "#111", width: 0.9, type: [1, 1.3] },
      itemStyle: { color: "#111", borderWidth: 0 }, z: 3,
    });
    series.push({
      type: "line", name: "All", xAxisIndex: i, yAxisIndex: i, data: pair(p.all),
      symbol: NO_MARK, showSymbol: false, lineStyle: { color: "#777", width: 0.9, type: [2.5, 1.3] },
      itemStyle: { color: "#777", borderWidth: 0 }, z: 3,
    });
    series.push({
      type: "line", name: "Robust", xAxisIndex: i, yAxisIndex: i, data: pair(p.robust),
      symbol: "circle", symbolSize: 2.6, showAllSymbol: true,
      lineStyle: { color: BLUE, width: 1.2 }, itemStyle: { color: BLUE, borderWidth: 0 }, z: 4,
    });
    series.push({
      type: "line", name: "Vulnerable", xAxisIndex: i, yAxisIndex: i, data: pair(p.vuln),
      symbol: "rect", symbolSize: 2.6, showAllSymbol: true,
      lineStyle: { color: RED, width: 1.2 }, itemStyle: { color: RED, borderWidth: 0 }, z: 5,
    });

    legend.push({
      data: LEGEND_NAMES, orient: "vertical", left: left + 1.5, top: top + 1.5,
      itemWidth: 8, itemHeight: 3, itemGap: 1.6, padding: [1.5, 3, 1.5, 2],
      itemStyle: { borderWidth: 0 },
      textStyle: { fontSize: 3.6, color: "#222", fontFamily: FONT },
      backgroundColor: "rgba(255,255,255,0.85)", borderColor: "#cfcfcf", borderWidth: 0.5, borderRadius: 1.5,
      selectedMode: false,
    });

    graphic.push({
      type: "text", x: left + GRID_W / 2, y: top - 4.3, silent: true,
      style: { text: p.title, align: "center", verticalAlign: "middle", fontSize: 5.6, fill: "#222", fontFamily: FONT },
    });
  });

  return {
    animation: false,
    backgroundColor: "#ffffff",
    textStyle: { fontFamily: FONT },
    grid, xAxis, yAxis, series, legend, graphic,
  };
}

export default function App() {
  const ref = useRef<HTMLDivElement>(null);
  useEffect(() => {
    document.body.style.margin = "0";
    const chart = echarts.init(ref.current as HTMLDivElement, null, { renderer: "svg" });
    chart.setOption(buildOption() as any);
    return () => chart.dispose();
  }, []);
  return <div ref={ref} style={{ width: 948, height: 1051 }} />;
}
